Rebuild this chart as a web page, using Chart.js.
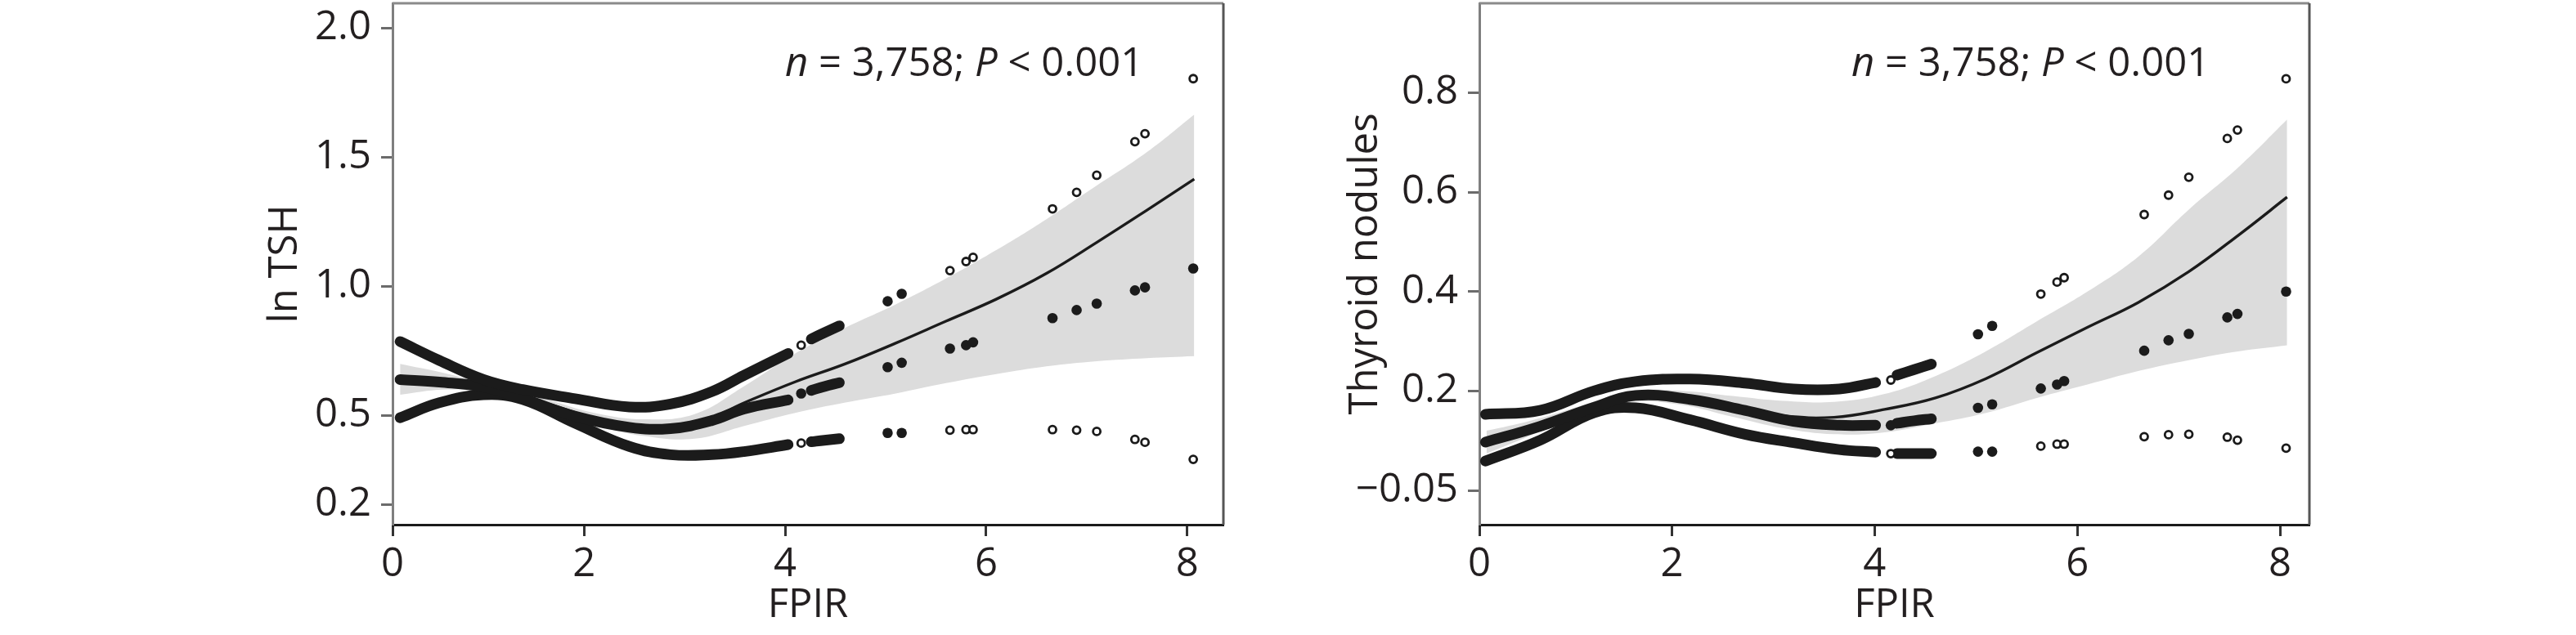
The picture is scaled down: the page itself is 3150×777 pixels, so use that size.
<!DOCTYPE html>
<html>
<head>
<meta charset="utf-8">
<script src="https://cdn.jsdelivr.net/npm/chart.js@4.4.1/dist/chart.umd.min.js"></script>
<style>
  html, body { margin: 0; padding: 0; background: #fff; }
  #wrap { position: relative; width: 3150px; height: 777px; overflow: hidden; }
  canvas { position: absolute; top: 0; }
  #tsh-chart { left: 0; }
  #nodule-chart { left: 1575px; }
  .note {
    position: absolute; top: 50px;
    font-family: "Open Sans", sans-serif; font-size: 49px; line-height: 1;
    color: #231f20; white-space: nowrap;
  }
</style>
</head>
<body>
<div id="wrap">
  <canvas id="tsh-chart" width="1575" height="777"></canvas>
  <canvas id="nodule-chart" width="1575" height="777"></canvas>
  <div class="note" style="left:960px"><i>n</i> = 3,758; <i>P</i> &lt; 0.001</div>
  <div class="note" style="left:2264px"><i>n</i> = 3,758; <i>P</i> &lt; 0.001</div>
</div>
<script>
// x positions (FPIR)
const fpirTicks = [0, 2, 4, 6, 8];
const fpirFit = [0.17, 0.6, 1.1, 1.6, 2.1, 2.6, 3.1, 3.6, 4.1, 4.6, 5.1, 5.6, 6.1, 6.6, 7.1, 7.6, 8.07];
const fpirSparse = [4.16, 5.02, 5.16, 5.64, 5.8, 5.87, 6.66, 6.9, 7.1, 7.48, 7.58, 8.06];
const tshDenseX = [0.17, 0.56, 1.0, 1.39, 1.91, 2.45, 2.86, 3.27, 3.59, 4.03, 4.16, 4.26, 4.39, 4.54];
const noduleDenseX = [0.16, 0.7, 1.23, 1.64, 2.18, 2.72, 3.2, 3.65, 4.01, 4.14, 4.22, 4.39, 4.56];

// ln TSH panel
const tshFit = [0.64, 0.63, 0.6, 0.55, 0.49, 0.455, 0.465, 0.55, 0.63, 0.7, 0.78, 0.865, 0.95, 1.05, 1.17, 1.295, 1.415];
const tshHi = [0.7, 0.665, 0.615, 0.565, 0.51, 0.485, 0.505, 0.615, 0.74, 0.84, 0.93, 1.03, 1.14, 1.26, 1.39, 1.52, 1.665];
const tshLo = [0.58, 0.6, 0.59, 0.53, 0.465, 0.42, 0.41, 0.46, 0.51, 0.55, 0.585, 0.625, 0.66, 0.69, 0.71, 0.722, 0.73];
const tshUpperDense = [0.786, 0.713, 0.639, 0.6, 0.565, 0.533, 0.544, 0.592, 0.655, 0.74, null, 0.796, 0.82, 0.847];
const tshMidDense = [0.639, 0.629, 0.61, 0.565, 0.497, 0.454, 0.449, 0.48, 0.525, 0.56, null, 0.597, 0.612, 0.627];
const tshLowerDense = [0.491, 0.549, 0.58, 0.562, 0.47, 0.38, 0.348, 0.348, 0.36, 0.387, null, 0.398, 0.404, 0.41];
const tshUpper = [0.772, 0.942, 0.971, 1.061, 1.096, 1.112, 1.3, 1.364, 1.43, 1.56, 1.591, 1.804];
const tshMid = [0.585, 0.687, 0.704, 0.759, 0.772, 0.783, 0.877, 0.908, 0.933, 0.984, 0.996, 1.069];
const tshLower = [0.393, 0.432, 0.432, 0.443, 0.445, 0.445, 0.445, 0.443, 0.438, 0.407, 0.396, 0.33];
// the printed axis puts "0.2" lower than a linear scale would
const tshTickValues = [0.155, 0.5, 1.0, 1.5, 2.0];
const tshTickLabels = ["0.2", "0.5", "1.0", "1.5", "2.0"];

// Thyroid nodules panel
const noduleFit = [0.097, 0.125, 0.163, 0.19, 0.186, 0.167, 0.15, 0.147, 0.163, 0.186, 0.225, 0.277, 0.328, 0.378, 0.44, 0.515, 0.59];
const noduleHi = [0.12, 0.14, 0.17, 0.2, 0.2, 0.19, 0.18, 0.178, 0.194, 0.23, 0.28, 0.34, 0.4, 0.47, 0.565, 0.652, 0.746];
const noduleLo = [0.074, 0.11, 0.155, 0.178, 0.172, 0.148, 0.125, 0.113, 0.117, 0.135, 0.156, 0.186, 0.213, 0.24, 0.262, 0.28, 0.292];
const noduleUpperDense = [0.153, 0.161, 0.2, 0.219, 0.224, 0.216, 0.204, 0.204, 0.217, null, 0.232, 0.243, 0.254];
const noduleMidDense = [0.097, 0.129, 0.167, 0.191, 0.183, 0.161, 0.139, 0.131, 0.131, null, 0.135, 0.14, 0.144];
const noduleLowerDense = [0.059, 0.101, 0.156, 0.166, 0.142, 0.113, 0.096, 0.082, 0.077, null, 0.074, 0.074, 0.074];
const noduleUpper = [0.222, 0.314, 0.331, 0.395, 0.419, 0.428, 0.555, 0.594, 0.63, 0.708, 0.725, 0.828];
const noduleMid = [0.131, 0.166, 0.173, 0.205, 0.213, 0.22, 0.281, 0.302, 0.315, 0.348, 0.355, 0.4];
const noduleLower = [0.074, 0.078, 0.078, 0.089, 0.093, 0.093, 0.108, 0.112, 0.113, 0.107, 0.101, 0.085];
// likewise "-0.05" is printed where zero falls
const noduleTickValues = [0, 0.2, 0.4, 0.6, 0.8];
const noduleTickLabels = ["\u22120.05", "0.2", "0.4", "0.6", "0.8"];

Chart.defaults.font.family = "'Open Sans', sans-serif";
Chart.defaults.font.size = 49;
Chart.defaults.color = "#231f20";

const INK = "#1b1b1b";
const BAND = "#dcdcdc";
const toXY = (xs, ys) => xs.map((x, i) => ({ x, y: ys[i] }));

// top and right edges of the box
const frame = {
  id: "frame",
  afterDraw(chart) {
    const { ctx, chartArea: a } = chart;
    ctx.save();
    ctx.lineWidth = 3;
    ctx.strokeStyle = "#8a8a8a";
    ctx.beginPath();
    ctx.moveTo(a.left, a.top);
    ctx.lineTo(a.right, a.top);
    ctx.stroke();
    ctx.strokeStyle = "#555";
    ctx.beginPath();
    ctx.moveTo(a.right, a.top);
    ctx.lineTo(a.right, a.bottom);
    ctx.stroke();
    ctx.restore();
  },
};

function lineSet(data, extra) {
  return Object.assign(
    {
      data,
      showLine: true,
      pointRadius: 0,
      borderColor: INK,
      tension: 0.4,
      fill: false,
    },
    extra
  );
}

function dotSet(data, hollowable, order) {
  // sparse points: hollow except the pair near FPIR 5
  const hollow = (c) => hollowable && c.dataIndex !== 1 && c.dataIndex !== 2;
  return {
    data,
    order,
    pointRadius: (c) => (hollow(c) ? 4.5 : 6.3),
    pointBorderWidth: (c) => (hollow(c) ? 2.8 : 0),
    pointBorderColor: INK,
    pointBackgroundColor: (c) => (hollow(c) ? "#fff" : INK),
  };
}

function createPanel(elementID, p) {
  const ctx = document.getElementById(elementID).getContext("2d");
  return new Chart(ctx, {
    type: "scatter",
    data: {
      datasets: [
        lineSet(toXY(fpirFit, p.lo), { borderWidth: 0, order: 9 }),
        lineSet(toXY(fpirFit, p.hi), { borderWidth: 0, order: 8, fill: { target: 0 }, backgroundColor: BAND }),
        lineSet(toXY(fpirFit, p.fit), { borderWidth: 3.4, order: 7 }),
        lineSet(toXY(p.denseX, p.upperDense), { borderWidth: 13, borderCapStyle: "round", order: 5 }),
        lineSet(toXY(p.denseX, p.midDense), { borderWidth: 13, borderCapStyle: "round", order: 5 }),
        lineSet(toXY(p.denseX, p.lowerDense), { borderWidth: 13, borderCapStyle: "round", order: 5 }),
        dotSet(toXY(fpirSparse, p.upper), true, 2),
        dotSet(toXY(fpirSparse, p.mid), false, 2),
        dotSet(toXY(fpirSparse, p.lower), true, 2),
      ],
    },
    options: {
      responsive: false,
      animation: false,
      devicePixelRatio: 1,
      layout: { autoPadding: false, padding: { left: 0, top: 4, right: p.padRight, bottom: 0 } },
      plugins: { legend: { display: false }, tooltip: { enabled: false } },
      scales: {
        x: {
          type: "linear",
          min: p.xMin,
          max: p.xMax,
          afterBuildTicks: (s) => {
            s.ticks = fpirTicks.map((v) => ({ value: Math.max(v, p.xMin) }));
          },
          afterFit: (s) => {
            s.height = 135;
            s.paddingLeft = 0;
            s.paddingRight = 0;
          },
          ticks: { callback: (v, i) => String(fpirTicks[i]), padding: 6, maxRotation: 0, autoSkip: false },
          grid: { drawOnChartArea: false, tickLength: 14, tickWidth: 3, tickColor: "#333" },
          border: { color: INK, width: 3 },
          title: { display: true, text: "FPIR", padding: { top: 0, bottom: 7 } },
        },
        y: {
          type: "linear",
          min: p.yMin,
          max: p.yMax,
          afterBuildTicks: (s) => {
            s.ticks = p.tickValues.map((v) => ({ value: v }));
          },
          afterFit: (s) => {
            s.width = p.axisWidth;
            s.paddingTop = 0;
            s.paddingBottom = 0;
          },
          ticks: { callback: (v, i) => p.tickLabels[i], padding: 12, autoSkip: false },
          grid: { drawOnChartArea: false, tickLength: 14, tickWidth: 3, tickColor: "#6b6b6b" },
          border: { color: "#7f7f7f", width: 3 },
          title: { display: true, text: p.title, padding: { top: p.titleOffset, bottom: 0 } },
        },
      },
    },
    plugins: [frame],
  });
}

const tshChart = createPanel("tsh-chart", {
  title: "ln TSH",
  titleOffset: 320,
  axisWidth: 480,
  padRight: 79,
  xMin: 0.095,
  xMax: 8.36,
  yMin: 0.077,
  yMax: 2.096,
  tickValues: tshTickValues,
  tickLabels: tshTickLabels,
  fit: tshFit, hi: tshHi, lo: tshLo,
  denseX: tshDenseX,
  upperDense: tshUpperDense, midDense: tshMidDense, lowerDense: tshLowerDense,
  upper: tshUpper, mid: tshMid, lower: tshLower,
});

const noduleChart = createPanel("nodule-chart", {
  title: "Thyroid nodules",
  titleOffset: 66,
  axisWidth: 234,
  padRight: 326,
  xMin: 0.1,
  xMax: 8.29,
  yMin: -0.069,
  yMax: 0.98,
  tickValues: noduleTickValues,
  tickLabels: noduleTickLabels,
  fit: noduleFit, hi: noduleHi, lo: noduleLo,
  denseX: noduleDenseX,
  upperDense: noduleUpperDense, midDense: noduleMidDense, lowerDense: noduleLowerDense,
  upper: noduleUpper, mid: noduleMid, lower: noduleLower,
});
</script>
</body>
</html>
